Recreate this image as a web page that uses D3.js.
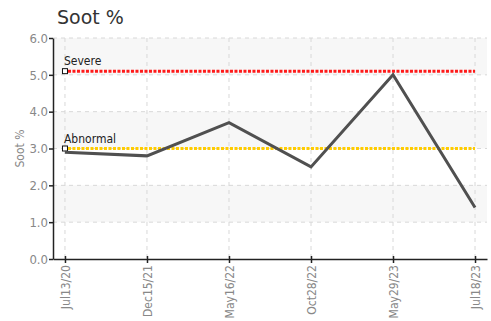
<!DOCTYPE html>
<html><head><meta charset="utf-8">
<script src="https://cdn.jsdelivr.net/npm/d3@7"></script>
<style>
body{margin:0;background:#fff;}
svg{display:block;}
.cond{font-stretch:condensed;}
</style></head>
<body>
<svg id="c" width="491" height="321"></svg>
<script>
const categories = ["Jul13/20","Dec15/21","May16/22","Oct28/22","May29/23","Jul18/23"];
const sootValues = [2.9, 2.8, 3.7, 2.5, 5.0, 1.4];
const yTicks = [0,1,2,3,4,5,6];
const thresholds = [
  {label:"Severe", value:5.1, color:"#ff1a1a"},
  {label:"Abnormal", value:3.0, color:"#ffcc00"}
];

const svg = d3.select("#c");
const mLeft = 53, mRight = 487, mTop = 38, mBottom = 259;
const tickFont = "'Liberation Sans Narrow','DejaVu Sans Condensed','DejaVu Sans',sans-serif";

const x = d3.scalePoint().domain(categories).range([mLeft, mRight]).padding(0.146);
const y = d3.scaleLinear().domain([0,6]).range([mBottom, mTop]);

// bands
const g = svg.append("g");
for (let i = 0; i < 6; i++) {
  if (i % 2 === 1) {
    g.append("rect").attr("x", mLeft).attr("width", mRight-mLeft)
      .attr("y", y(i+1)).attr("height", y(i)-y(i+1)).attr("fill", "#f7f7f7");
  }
}
// horizontal grid
g.selectAll(".hg").data(yTicks.slice(1)).enter().append("line")
  .attr("x1", mLeft).attr("x2", mRight).attr("y1", d=>y(d)).attr("y2", d=>y(d))
  .attr("stroke", "#d8d8d8").attr("stroke-dasharray", "4,4");
// vertical grid
g.selectAll(".vg").data(categories).enter().append("line")
  .attr("x1", d=>x(d)).attr("x2", d=>x(d)).attr("y1", mTop).attr("y2", mBottom)
  .attr("stroke", "#d8d8d8").attr("stroke-dasharray", "4,4");

// thresholds
thresholds.forEach(t => {
  svg.append("line").attr("x1", x(categories[0])+3).attr("x2", x(categories[categories.length-1]))
    .attr("y1", y(t.value)).attr("y2", y(t.value))
    .attr("stroke", t.color).attr("stroke-width", 3).attr("stroke-dasharray", "3,1.5");
  svg.append("rect").attr("x", x(categories[0])-2.5).attr("y", y(t.value)-2.5)
    .attr("width", 5).attr("height", 5).attr("fill", "#fff").attr("stroke", "#111").attr("stroke-width", 1);
  svg.append("text").attr("class", "cond").attr("x", x(categories[0])-1).attr("y", y(t.value)-6)
    .attr("font-family", tickFont).attr("font-size", 12).attr("fill", "#222")
    .text(t.label);
});

// line
const line = d3.line().x((d,i)=>x(categories[i])).y(d=>y(d));
svg.append("path").datum(sootValues).attr("d", line)
  .attr("fill", "none").attr("stroke", "#505050").attr("stroke-width", 3)
  .attr("stroke-linejoin", "miter");

// axes
const yAxis = svg.append("g").attr("transform", `translate(${mLeft},0)`)
  .call(d3.axisLeft(y).tickValues(yTicks).tickFormat(d3.format(".1f")).tickSize(4).tickSizeOuter(0));
yAxis.select(".domain").attr("stroke", "#222").attr("stroke-width", 1.5);
yAxis.selectAll(".tick line").attr("stroke", "#222").attr("stroke-width", 1.5);
yAxis.selectAll("text").attr("class", "cond").attr("font-family", tickFont).attr("font-size", 13).attr("fill", "#888").attr("x", -5);

const xAxis = svg.append("g").attr("transform", `translate(0,${mBottom})`)
  .call(d3.axisBottom(x).tickSize(4).tickSizeOuter(0));
xAxis.select(".domain").attr("stroke", "#222").attr("stroke-width", 1.5);
xAxis.selectAll(".tick line").attr("stroke", "#222").attr("stroke-width", 1.5).attr("y1", -3);
xAxis.selectAll("text").attr("class", "cond").attr("font-family", tickFont).attr("font-size", 12).attr("fill", "#888")
  .attr("transform", "rotate(-90)").attr("text-anchor", "end").attr("dy", "0.35em").attr("x", -6).attr("y", 0);

// y label
svg.append("text").attr("class", "cond").attr("transform", `translate(24,${(mTop+mBottom)/2}) rotate(-90)`)
  .attr("text-anchor", "middle").attr("font-family", tickFont).attr("font-size", 12).attr("fill", "#888")
  .text("Soot %");

// title
svg.append("text").attr("x", 57).attr("y", 24).attr("font-family", "'DejaVu Sans',sans-serif")
  .attr("font-size", 19).attr("fill", "#333").text("Soot %");
</script>
</body></html>
